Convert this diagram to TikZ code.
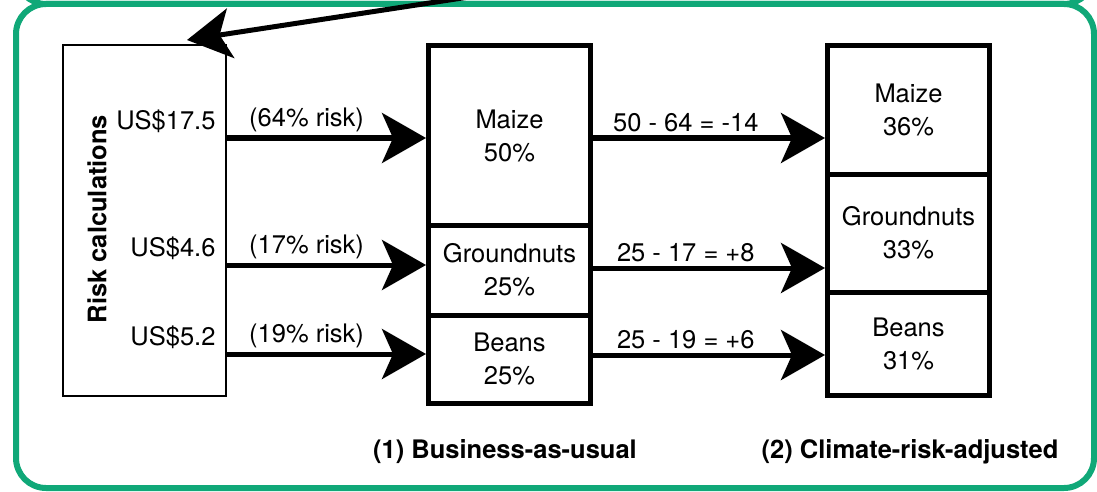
\documentclass[tikz,border=0pt]{standalone}
\usepackage{fontspec}
\setmainfont{TeX Gyre Heros}
\usetikzlibrary{arrows.meta}

\definecolor{framegreen}{RGB}{16,168,120}
\newcommand{\bodysize}{\fontsize{25.5}{33}\selectfont}

\tikzset{
  every node/.style={font=\bodysize},
  cropbox/.style={draw, line width=5pt, minimum width=162pt, align=center, inner sep=0pt},
  flow/.style={line width=5pt, -{Stealth[length=44pt, width=50pt, inset=11pt]}},
  val/.style={anchor=south east, inner sep=3pt, xshift=-6pt},
  lbl/.style={above, inner sep=4pt},
  title/.style={font=\bodysize\bfseries},
}

\begin{document}
\begin{tikzpicture}[x=1pt, y=-1pt]
  \useasboundingbox (0,0) rectangle (1097,492);
  \clip (0,0) rectangle (1097,492);

  % green frames (the one above is cut off)
  \draw[framegreen, line width=6pt, rounded corners=30pt] (16,-600) rectangle (1094,4);
  \draw[framegreen, line width=6pt, rounded corners=30pt] (16,4) rectangle (1094,488);

  % risk box
  \node[draw, line width=2pt, minimum width=163pt, minimum height=351pt] (risk) at (144.5,220.5) {};
  \node[title, rotate=90] (risklbl) at (97,219) {Risk calculations};

  % (1) business-as-usual
  \node[cropbox, minimum height=179pt] (maizeA) at (509.5,135.5) {Maize\\50\%};
  \node[cropbox, minimum height=90pt] (gnutA) at (509.5,270) {Groundnuts\\25\%};
  \node[cropbox, minimum height=88pt] (beansA) at (509.5,359) {Beans\\25\%};

  % (2) climate-risk-adjusted
  \node[cropbox, minimum height=128pt] (maizeB) at (908.5,110) {Maize\\36\%};
  \node[cropbox, minimum height=118pt] (gnutB) at (908.5,233) {Groundnuts\\33\%};
  \node[cropbox, minimum height=103pt] (beansB) at (908.5,343.5) {Beans\\31\%};

  % arrows
  \coordinate (src) at (600,-23);
  \draw[flow] (src) -- ([xshift=-40pt, yshift=4pt]risk.north east);

  \draw[flow] (risk.east |- maizeA.west) ++(0,2.5) node[val] {US\$17.5} -- node[lbl, pos=0.4] {(64\% risk)} ([yshift=-2.5pt]maizeA.west);
  \draw[flow] (risk.east |- gnutA.west) ++(0,-5) node[val] {US\$4.6} -- node[lbl, pos=0.4] {(17\% risk)} ([yshift=5pt]gnutA.west);
  \draw[flow] (risk.east |- beansA.west) ++(0,-5) node[val] {US\$5.2} -- node[lbl, pos=0.4] {(19\% risk)} ([yshift=5pt]beansA.west);

  \draw[flow] ([yshift=-2.5pt]maizeA.east) -- node[lbl, pos=0.4] {50 - 64 = -14} ([yshift=-2.5pt]maizeA.east -| maizeB.west);
  \draw[flow] ([yshift=2pt]gnutA.east) -- node[lbl, pos=0.4] {25 - 17 = +8} ([yshift=2pt]gnutA.east -| gnutB.west);
  \draw[flow] ([yshift=4pt]beansA.east) -- node[lbl, pos=0.4] {25 - 19 = +6} ([yshift=4pt]beansA.east -| beansB.west);

  % captions
  \node[title] (bau) at (505,452) {(1) Business-as-usual};
  \node[title] (cra) at (910,452) {(2) Climate-risk-adjusted};
\end{tikzpicture}
\end{document}
